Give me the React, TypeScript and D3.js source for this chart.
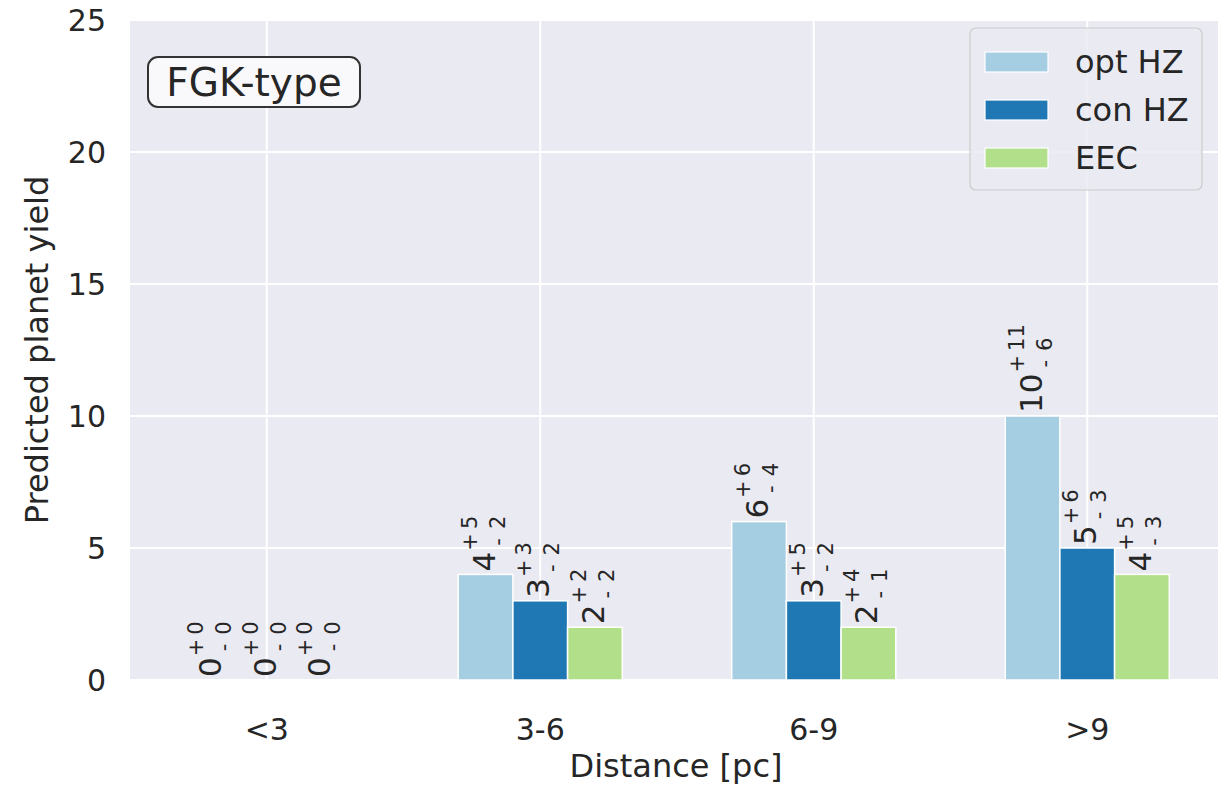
import React from "react";
import * as d3 from "d3";

const categories = ["<3", "3-6", "6-9", ">9"];
const seriesNames = ["opt HZ", "con HZ", "EEC"];
const optHZ = [0, 4, 6, 10];
const optPlus = [0, 5, 6, 11];
const optMinus = [0, 2, 4, 6];
const conHZ = [0, 3, 3, 5];
const conPlus = [0, 3, 5, 6];
const conMinus = [0, 2, 2, 3];
const eec = [0, 2, 2, 4];
const eecPlus = [0, 2, 4, 5];
const eecMinus = [0, 2, 1, 3];
const yTicks = [0, 5, 10, 15, 20, 25];
const colors = ["#a6cee3", "#1f78b4", "#b2df8a"];

const W = 1218;
const H = 786;
const left = 130;
const right = 1224;
const top = 20;
const bottom = 680;
const FONT = "DejaVu Sans";
const TXT = "#262626";

export default function App() {
  const x = d3.scaleBand<string>().domain(categories).range([left, right]).padding(0);
  const y = d3.scaleLinear().domain([0, 25]).range([bottom, top]);
  const values = [optHZ, conHZ, eec];
  const plus = [optPlus, conPlus, eecPlus];
  const minus = [optMinus, conMinus, eecMinus];
  const bw = x.bandwidth() * 0.2;

  const FM = 31;
  const FS = 21;
  const b = 9;

  const bars: React.ReactNode[] = [];
  const labels: React.ReactNode[] = [];
  values.forEach((vals, s) => {
    vals.forEach((v, i) => {
      const cx = (x(categories[i]) as number) + x.bandwidth() / 2 + (s - 1) * bw;
      const yt = y(v);
      bars.push(
        <rect key={`b${s}-${i}`} x={cx - bw / 2} y={yt} width={bw} height={bottom - yt}
          fill={colors[s]} stroke="#ffffff" strokeWidth={1.5} />
      );
      const mainStr = String(v);
      const w = mainStr.length * 0.636 * FM;
      const opX = w + 1 + 0.838 * FS / 2;
      const numX = w + 1 + 0.838 * FS + 4;
      labels.push(
        <g key={`l${s}-${i}`} transform={`translate(${cx},${yt - 3}) rotate(-90)`}
          fontFamily={FONT} fill={TXT}>
          <text x={0} y={b} fontSize={FM}>{mainStr}</text>
          <text x={opX} y={b - 18} fontSize={FS} textAnchor="middle">+</text>
          <text x={numX} y={b - 18} fontSize={FS}>{plus[s][i]}</text>
          <text x={opX} y={b + 10} fontSize={FS} textAnchor="middle">-</text>
          <text x={numX} y={b + 10} fontSize={FS}>{minus[s][i]}</text>
        </g>
      );
    });
  });

  return (
    <div style={{ position: "fixed", left: 0, top: 0 }}>
      <svg width={W} height={H} style={{ display: "block", background: "#ffffff" }}>
        <defs>
          <clipPath id="plot">
            <rect x={left} y={top} width={right - left} height={bottom - top} />
          </clipPath>
        </defs>
        <rect x={left} y={top} width={right - left} height={bottom - top} fill="#eaeaf2" />
        <g stroke="#ffffff" strokeWidth={2}>
          {yTicks.map((t) => (
            <line key={`gy${t}`} x1={left} x2={right} y1={y(t)} y2={y(t)} />
          ))}
          {categories.map((c) => {
            const cx = (x(c) as number) + x.bandwidth() / 2;
            return <line key={`gx${c}`} x1={cx} x2={cx} y1={top} y2={bottom} />;
          })}
        </g>
        <g clipPath="url(#plot)">{bars}</g>
        {labels}
        <g fontFamily={FONT} fontSize={30} fill={TXT}>
          {yTicks.map((t) => (
            <text key={`ty${t}`} x={106} y={y(t)} dy="0.35em" textAnchor="end">{t}</text>
          ))}
          {categories.map((c) => (
            <text key={`tx${c}`} x={(x(c) as number) + x.bandwidth() / 2} y={729} dy="0.35em" textAnchor="middle">{c}</text>
          ))}
          <text x={676} y={766} dy="0.35em" textAnchor="middle" fontSize={32}>Distance [pc]</text>
          <text transform={`translate(37,${(top + bottom) / 2}) rotate(-90)`} dy="0.35em" textAnchor="middle" fontSize={32}>Predicted planet yield</text>
        </g>
        <g>
          <rect x={148} y={57} width={212} height={50} rx={10} fill="#f9f9fb" stroke="#333333" strokeWidth={2} />
          <text x={254} y={82} dy="0.35em" textAnchor="middle" fontFamily={FONT} fontSize={39} fill={TXT}>FGK-type</text>
        </g>
        <g>
          <rect x={970} y={28} width={232} height={162} rx={6} fill="#eaeaf2" fillOpacity={0.85} stroke="#cccccc" strokeWidth={1.2} />
          {seriesNames.map((n, s) => (
            <g key={`lg${s}`}>
              <rect x={985} y={52 + s * 48} width={63} height={20} fill={colors[s]} stroke="#ffffff" strokeWidth={1.2} />
              <text x={1075} y={62 + s * 48} dy="0.35em" fontFamily={FONT} fontSize={32} fill={TXT}>{n}</text>
            </g>
          ))}
        </g>
      </svg>
    </div>
  );
}
